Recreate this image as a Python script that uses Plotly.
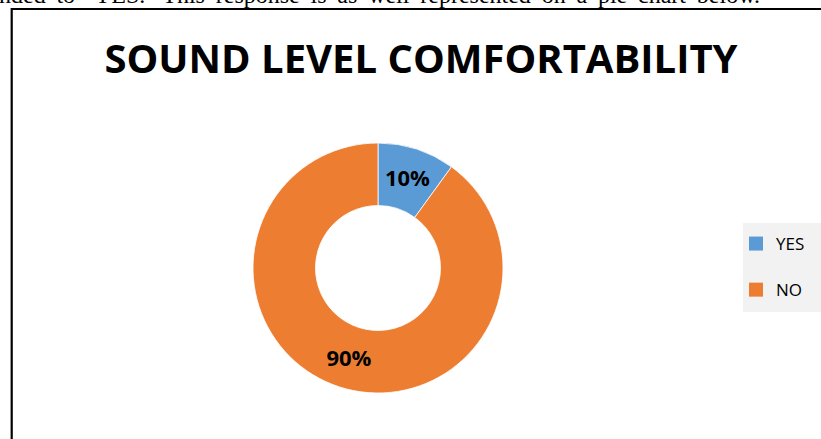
import plotly.graph_objects as go

# ---- data ----
categories = ["YES", "NO"]
values = [10, 90]
colors = ["#5B9BD5", "#ED7D31"]
title_text = "SOUND LEVEL COMFORTABILITY"
caption_text = "responded to \u2018YES.\u2019 This response is as well represented on a pie chart below."

W, H = 821, 439

def px(x):
    return x / W

def py(y):  # y measured from top in pixels
    return 1 - y / H

# the source paragraph is justified: widen the word gaps a little
caption_justified = caption_text.replace(" ", " \u2009")

fig = go.Figure()

# donut
cx, cy, r = 378, 268, 125
fig.add_trace(go.Pie(
    labels=categories,
    values=values,
    hole=0.5,
    sort=False,
    direction="clockwise",
    rotation=0,
    marker=dict(colors=colors, line=dict(color="white", width=0.8)),
    textinfo="percent",
    textposition="inside",
    insidetextorientation="horizontal",
    textfont=dict(family="Open Sans", size=22, color="black", weight="bold"),
    showlegend=False,
    domain=dict(x=[px(cx - r), px(cx + r)], y=[py(cy + r), py(cy - r)]),
    hoverinfo="label+percent",
))

# legend entries
for i, (cat, col) in enumerate(zip(categories, colors)):
    fig.add_trace(go.Scatter(
        x=[None], y=[None], mode="markers", name=cat,
        legendgroup=cat,
        marker=dict(symbol="square", size=14, color=col),
    ))

fig.update_layout(
    width=W, height=H,
    margin=dict(l=0, r=0, t=0, b=0),
    paper_bgcolor="white",
    plot_bgcolor="rgba(0,0,0,0)",
    xaxis=dict(visible=False),
    yaxis=dict(visible=False),
    showlegend=True,
    legend=dict(
        x=px(736), y=py(226), xanchor="left", yanchor="top",
        bgcolor="rgba(0,0,0,0)",
        font=dict(family="Open Sans", size=17, color="black"),
        traceorder="grouped",
        tracegroupgap=21,
        itemclick=False,
    ),
    title=dict(
        text=title_text,
        x=px(421), y=py(59), xanchor="center", yanchor="middle",
        font=dict(family="Open Sans", size=40, color="black", weight="bold"),
    ),
    shapes=[
        # legend background
        dict(type="rect", xref="paper", yref="paper",
             x0=px(743), x1=1.05, y0=py(312), y1=py(223),
             fillcolor="#F2F2F2", line=dict(width=0), layer="below"),
        # frame of the chart box
        dict(type="rect", xref="paper", yref="paper",
             x0=px(11.7), x1=1.05, y0=-0.05, y1=py(9),
             line=dict(color="black", width=2.2), fillcolor="rgba(0,0,0,0)"),
    ],
    annotations=[
        dict(text=caption_justified, xref="paper", yref="paper",
             x=px(762), y=py(-5.4), xanchor="right", yanchor="middle",
             showarrow=False,
             font=dict(family="Liberation Serif", size=24, color="black")),
    ],
)

fig.write_html(
    "out.html",
    config={"displayModeBar": False},
    post_script="document.body.style.margin='0';document.body.style.overflow='hidden';",
)
